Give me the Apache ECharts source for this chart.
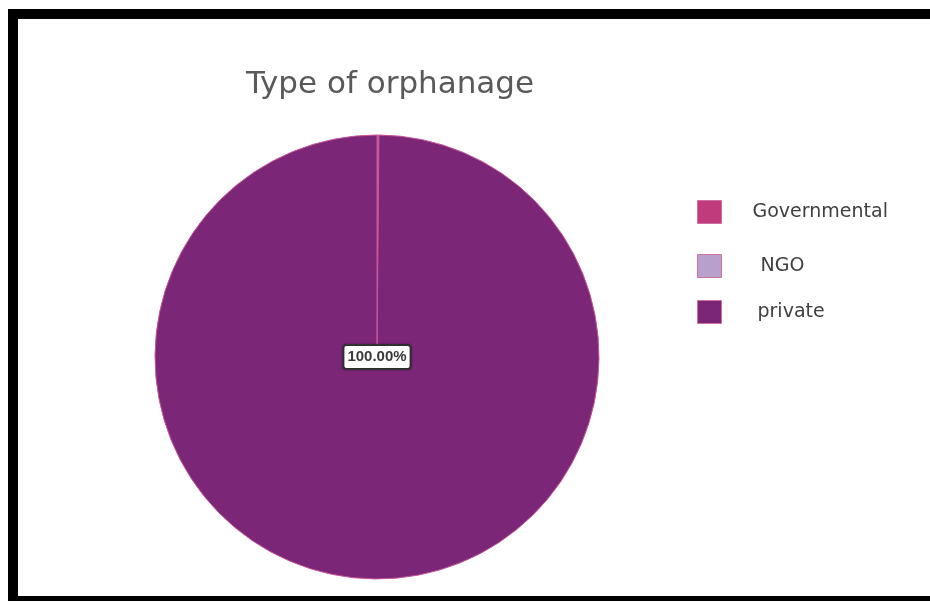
<!DOCTYPE html>
<html>
<head>
<meta charset="utf-8">
<script src="https://cdn.jsdelivr.net/npm/echarts@6/dist/echarts.min.js"></script>
<style>
  html, body { margin: 0; padding: 0; background: #fff; }
  #chart { position: absolute; left: 0; top: 0; width: 930px; height: 606px; }
  /* black frame around the picture */
  #frame {
    position: absolute; left: 8px; top: 9px; width: 940px; height: 592px;
    border-left: 10px solid #000; border-top: 10px solid #000; border-bottom: 5px solid #000;
    box-sizing: border-box; pointer-events: none;
  }
</style>
</head>
<body>
<div id="chart"></div>
<div id="frame"></div>
<script>
// data
const categories = ['Governmental', 'NGO', 'private'];
const values = [0, 0, 100];
const colors = ['#c03b7b', '#b99fcc', '#7b2677'];
const titleText = 'Type of orphanage';

const chart = echarts.init(document.getElementById('chart'));

const total = values.reduce((a, b) => a + b, 0);

// one legend per item so each can sit where the reference has it
const legendTop = [195, 249, 295];
const legendPad = [[0, 0, 0, 26], [18, 0, 0, 34], [0, 0, 0, 31]];
const legends = categories.map((name, i) => ({
  data: [name],
  top: legendTop[i],
  left: 692,
  itemWidth: 24,
  itemHeight: 23,
  icon: 'rect',
  itemStyle: { borderColor: '#d070a0', borderWidth: 1 },
  textStyle: {
    fontFamily: 'DejaVu Sans',
    fontSize: 19,
    color: '#404040',
    padding: legendPad[i]
  },
  selectedMode: false
}));

const option = {
  backgroundColor: 'transparent',
  animation: false,
  title: {
    text: titleText,
    left: 385,
    top: 64,
    textAlign: 'center',
    textStyle: {
      fontFamily: 'DejaVu Sans',
      fontWeight: 'normal',
      fontSize: 31,
      color: '#595959'
    }
  },
  legend: legends,
  series: [
    {
      type: 'pie',
      center: [377, 357],
      radius: 222,
      startAngle: 90,
      clockwise: true,
      silent: true,
      // empty slices still leave their edge at the top, as in the reference
      minAngle: 0.25,
      itemStyle: {
        borderColor: '#c85896',
        borderWidth: 1
      },
      labelLine: { show: false },
      data: categories.map((name, i) => ({
        name: name,
        value: values[i],
        itemStyle: { color: colors[i] },
        label: values[i] > 0 ? {
          show: true,
          position: 'center',
          formatter: () => (values[i] / total * 100).toFixed(2) + '%',
          fontFamily: 'Liberation Sans',
          fontSize: 15,
          fontWeight: 'bold',
          color: '#3a3a3a',
          backgroundColor: '#fff',
          borderColor: '#333',
          borderWidth: 2,
          borderRadius: 2,
          padding: [4, 3, 3, 3],
          shadowColor: 'rgba(0,0,0,0.4)',
          shadowBlur: 2
        } : { show: false }
      }))
    }
  ]
};

chart.setOption(option);
</script>
</body>
</html>
